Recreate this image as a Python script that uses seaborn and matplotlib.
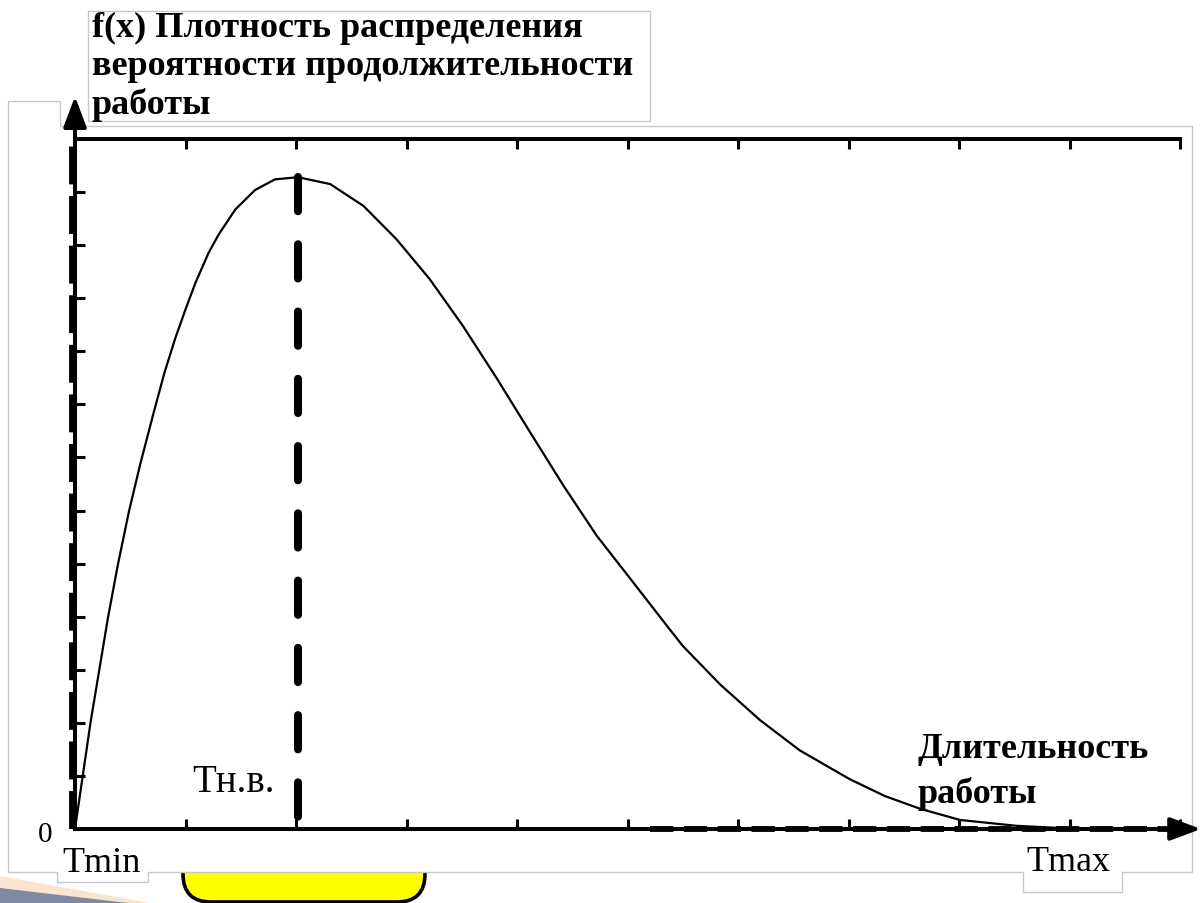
import numpy as np
import pandas as pd
import matplotlib
matplotlib.use("Agg")
import matplotlib.pyplot as plt
import seaborn as sns
from matplotlib.patches import FancyBboxPatch, Polygon, Rectangle

# Длительность работы (условные единицы) и плотность вероятности f(x)
duration = [0.0, 0.07, 0.14, 0.22, 0.30, 0.39, 0.49, 0.59, 0.71, 0.81, 0.905, 1.0,
            1.09, 1.21, 1.30, 1.45, 1.63, 1.81, 2.02, 2.31, 2.61, 2.91, 3.21, 3.51,
            3.82, 4.12, 4.42, 4.72, 4.87, 5.05, 5.36, 5.50, 5.84, 6.20, 6.56, 7.01,
            7.33, 7.65, 8.01, 8.52, 9.0, 9.37]
density = [0.0, 1.0, 2.0, 3.0, 4.0, 5.0, 6.0, 6.87, 7.83, 8.6, 9.23, 9.79,
           10.29, 10.86, 11.2, 11.67, 12.04, 12.24, 12.28, 12.15, 11.74, 11.11, 10.36, 9.48,
           8.48, 7.47, 6.47, 5.53, 5.13, 4.65, 3.82, 3.45, 2.72, 2.05, 1.48, 0.94,
           0.62, 0.38, 0.17, 0.06, 0.01, 0.0]

x_ticks = [1, 2, 3, 4, 5, 6, 7, 8, 9, 10]
y_ticks = [1, 2, 3, 4, 5, 6, 7, 8, 9, 10, 11, 12]

title_text = "f(x) Плотность распределения\nвероятности продолжительности\nработы"
xlabel_text = "Длительность\nработы"
mode_label = "Тн.в."
tmin_label = "Tmin"
tmax_label = "Tmax"
zero_label = "0"

sns.set_style("white")
plt.rcParams["font.family"] = ["Liberation Serif", "DejaVu Serif"]
plt.rcParams["text.color"] = "black"

df = pd.DataFrame({"duration": duration, "density": density})

fig = plt.figure(figsize=(12, 9.04), dpi=100)

# Background layer in pixel units (slide frame, boxes, labels)
bg = fig.add_axes([0, 0, 1, 1], zorder=0)
bg.set_xlim(0, 1200)
bg.set_ylim(904, 0)
bg.axis("off")

frame_gray = "#c8c8c8"
bg.add_patch(Polygon([(0, 877), (150, 904), (0, 904)], closed=True,
                     facecolor="#fbe4cf", edgecolor="none", zorder=1))
bg.add_patch(Polygon([(0, 889), (128, 904), (0, 904)], closed=True,
                     facecolor="#7e89a2", edgecolor="none", zorder=1))
bg.add_patch(FancyBboxPatch((183, 842), 242, 61,
                            boxstyle="round,pad=0,rounding_size=28",
                            facecolor="#ffff00", edgecolor="black", lw=2.6, zorder=2))
bg.add_patch(Polygon([(8, 102), (60, 102), (60, 127), (1192, 127), (1192, 873),
                      (1122, 873), (1122, 893), (1023, 893), (1023, 873),
                      (148, 873), (148, 883), (57, 883), (57, 873), (8, 873)],
                     closed=True, facecolor="white", edgecolor=frame_gray, lw=1.0, zorder=3))
bg.add_patch(Rectangle((88, 12), 562, 110, facecolor="white",
                       edgecolor=frame_gray, lw=1.0, zorder=4))

# Multi-line texts are anchored at the baseline of their last line
bg.text(92, 114, title_text, fontsize=26, fontweight="bold", va="baseline",
        ha="left", linespacing=1.2, zorder=5)
bg.text(918, 803, xlabel_text, fontsize=26, fontweight="bold", va="baseline",
        ha="left", linespacing=1.42, zorder=5)
bg.text(192, 792, mode_label, fontsize=28, va="baseline", ha="left", zorder=5)
bg.text(62, 872, tmin_label, fontsize=26, va="baseline", ha="left", zorder=5)
bg.text(1026, 871, tmax_label, fontsize=26, va="baseline", ha="left", zorder=5)
bg.text(38, 842, zero_label, fontsize=21, va="baseline", ha="left", zorder=5)

# Chart axes
ax = fig.add_axes([75 / 1200, 1 - 830 / 904, 1105 / 1200, 690 / 904], zorder=2)
ax.patch.set_alpha(0)

sns.lineplot(data=df, x="duration", y="density", color="black", lw=1.6,
             ax=ax, legend=False)

# Most probable duration (mode of the density)
i_mode = int(np.argmax(density))
x_mode = duration[i_mode]
ax.plot([x_mode, x_mode], [density[i_mode], 0], color="black", lw=5.8,
        dashes=(4.25, 4.1), dash_capstyle="round", solid_capstyle="round", zorder=3)

ax.set_xlim(0, 10)
ax.set_ylim(0, 13)
ax.set_xticks(x_ticks)
ax.set_yticks(y_ticks)
ax.set_xlabel("")
ax.set_ylabel("")
ax.tick_params(axis="both", direction="in", length=7, width=2.2, color="black",
               top=True, bottom=True, left=True, right=False,
               labelleft=False, labelbottom=False)

for side in ("left", "top", "bottom"):
    ax.spines[side].set_visible(True)
    ax.spines[side].set_linewidth(2.9)
    ax.spines[side].set_color("black")
ax.spines["right"].set_visible(False)

# Heavy dashed overlay on the axes
ax.plot([-0.025, -0.025], [0, 13], color="black", lw=4.2, dashes=(6.5, 2.0),
        solid_capstyle="butt", clip_on=False, zorder=4)
ax.plot([5.2, 10], [0, 0], color="black", lw=4.2, dashes=(4.0, 1.8),
        clip_on=False, zorder=4)

# Axis arrows
arrow_style = dict(arrowstyle="-|>,head_length=0.75,head_width=0.28", lw=2.9,
                   color="black", shrinkA=0, shrinkB=0, mutation_scale=25)
ax.annotate("", xy=(0, 1.062), xytext=(0, 0.99), xycoords="axes fraction",
            textcoords="axes fraction", arrowprops=arrow_style, annotation_clip=False)
ax.annotate("", xy=(1.019, 0), xytext=(0.99, 0), xycoords="axes fraction",
            textcoords="axes fraction", arrowprops=arrow_style, annotation_clip=False)

fig.savefig("out.png", dpi=100)
